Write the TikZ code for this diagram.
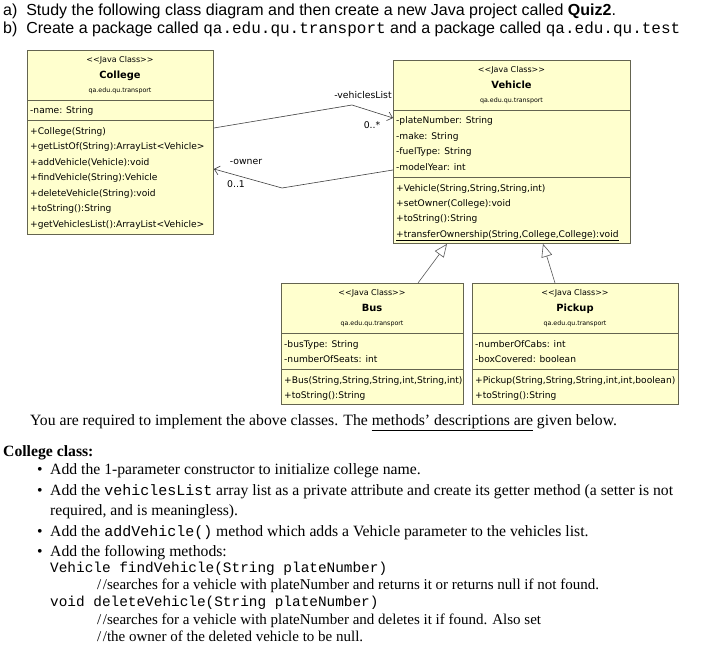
\documentclass[tikz,border=0pt]{standalone}
\usepackage{fontspec}
\setmainfont{Liberation Serif}
\newfontfamily\arialf{Liberation Sans}
\newfontfamily\umlf{DejaVu Sans}
\newfontfamily\courf{Liberation Mono}
\usetikzlibrary{arrows.meta}
\definecolor{umlfill}{RGB}{255,255,206}
\definecolor{umlline}{RGB}{100,100,80}
\newcommand\memlist[5]{%
  \foreach \t [count=\i from 0] in {#5}{\node[mem] (#1\i) at (#2,{#3+\i*#4}) {\t};}}
\newcommand\slsl{/\kern1.5pt/}
\newcommand\inl[1]{{\courf\fontsize{15}{18}\selectfont #1}}
\begin{document}
\begin{tikzpicture}[x=1pt,y=-1pt,
  umlbox/.style={draw=umlline, fill=umlfill, line width=0.9pt, inner sep=0pt, anchor=north west},
  sep/.style={draw=umlline, line width=0.8pt},
  mem/.style={anchor=base west, inner sep=0pt, font=\umlf\fontsize{9.1}{10}\selectfont},
  stereo/.style={anchor=base, inner sep=0pt, font=\umlf\fontsize{8}{9}\selectfont},
  cname/.style={anchor=base, inner sep=0pt, font=\umlf\bfseries\fontsize{9.9}{11}\selectfont},
  pkg/.style={anchor=base, inner sep=0pt, font=\umlf\fontsize{6.3}{7}\selectfont},
  lbl/.style={anchor=base, inner sep=0pt, font=\umlf\fontsize{9.3}{10}\selectfont},
  assoc/.style={draw=black!75, line width=0.6pt, -{Straight Barb[length=5pt,width=9pt]}},
  gen/.style={draw=black!65, line width=0.6pt, -{Triangle[open,length=13pt,width=11pt,fill=white]}},
  head/.style={anchor=base west, inner sep=0pt, font=\arialf\fontsize{16}{19}\selectfont},
  body/.style={anchor=base west, inner sep=0pt, font=\fontsize{15.7}{19}\selectfont},
  cmt/.style={anchor=base west, inner sep=0pt, font=\fontsize{15}{18}\selectfont},
  code/.style={anchor=base west, inner sep=0pt, font=\courf\fontsize{14.4}{17}\selectfont}]
\useasboundingbox (0,0) rectangle (718,652);
\fill[white] (0,0) rectangle (718,652);

% headings
\node[head] (ha) at (3,16) {a)\ \ Study the following class diagram and then create a new Java project called \textbf{Quiz2}.};
\node[head] (hb) at (3,34) {b)\ \ Create a package called {\courf qa.edu.qu.transport} and a package called {\courf qa.edu.qu.test}};

% boxes
\node[umlbox, minimum width=186pt, minimum height=184pt] (college) at (27,50) {};
\node[umlbox, minimum width=237pt, minimum height=183pt] (vehicle) at (393,60) {};
\node[umlbox, minimum width=182pt, minimum height=121pt] (bus) at (281,283) {};
\node[umlbox, minimum width=206pt, minimum height=121pt] (pickup) at (472,283) {};

\foreach \b/\s/\t in {college/50/70, vehicle/50/117, bus/50/86, pickup/50/86}{
  \draw[sep] ([yshift=-\s pt]\b.north west) -- ([yshift=-\s pt]\b.north east);
  \draw[sep] ([yshift=-\t pt]\b.north west) -- ([yshift=-\t pt]\b.north east);
}

% College
\node[stereo] (cst) at (120,63) {<<Java Class>>};
\node[cname] (cnm) at (120,79) {College};
\node[pkg] (cpk) at (120,93) {qa.edu.qu.transport};
\node[mem] (ca0) at (30,113.5) {-name: String};
\memlist{cm}{30}{134.5}{15.5}{{+College(String)},{+getListOf(String):ArrayList<Vehicle>},{+addVehicle(Vehicle):void},{+findVehicle(String):Vehicle},{+deleteVehicle(String):void},{+toString():String},{+getVehiclesList():ArrayList<Vehicle>}}

% Vehicle
\node[stereo] (vst) at (511.5,73) {<<Java Class>>};
\node[cname] (vnm) at (511.5,89) {Vehicle};
\node[pkg] (vpk) at (511.5,103) {qa.edu.qu.transport};
\memlist{va}{396}{123.5}{15.6}{{-plateNumber: String},{-make: String},{-fuelType: String},{-modelYear: int}}
\memlist{vm}{396}{191.5}{15.2}{{+Vehicle(String,String,String,int)},{+setOwner(College):void},{+toString():String},{\underline{+transferOwnership(String,College,College):void}}}

% Bus
\node[stereo] (bst) at (372,296) {<<Java Class>>};
\node[cname] (bnm) at (372,312) {Bus};
\node[pkg] (bpk) at (372,326) {qa.edu.qu.transport};
\memlist{ba}{284}{347.5}{15}{{-busType: String},{-numberOfSeats: int}}
\memlist{bm}{284}{383.5}{15.5}{{+Bus(String,String,String,int,String,int)},{+toString():String}}

% Pickup
\node[stereo] (pst) at (575,296) {<<Java Class>>};
\node[cname] (pnm) at (575,312) {Pickup};
\node[pkg] (ppk) at (575,326) {qa.edu.qu.transport};
\memlist{pa}{475}{347.5}{15}{{-numberOfCabs: int},{-boxCovered: boolean}}
\memlist{pm}{475}{383.5}{15.5}{{+Pickup(String,String,String,int,int,boolean)},{+toString():String}}

% associations
\coordinate (vbend) at (352,105);
\coordinate (obend) at (282,188);
\draw[assoc] ([yshift=-78pt]college.north east) -- (vbend) -- ([yshift=-58pt]vehicle.north west);
\draw[assoc] ([yshift=-110pt]vehicle.north west) -- (obend) -- ([yshift=-119pt]college.north east);
\node[lbl] (lvl) at (363,99) {-vehiclesList};
\node[lbl] (lvm) at (372,129) {0..*};
\node[lbl] (low) at (246,165) {-owner};
\node[lbl] (lom) at (236,188) {0..1};

% generalizations
\draw[gen] ([xshift=137pt]bus.north west) -- ([xshift=54pt]vehicle.south west);
\draw[gen] ([xshift=83pt]pickup.north west) -- ([xshift=150pt]vehicle.south west);

% body text
\node[body] (intro) at (30,425) {You are required to implement the above classes. The \underline{methods’ descriptions are} given below.};
\node[body, font=\bfseries\fontsize{15.7}{19}\selectfont] (cc) at (3,456) {College class:};
\node[body] (d1) at (37,474) {•};
\node[body] (t1) at (50,474) {Add the 1-parameter constructor to initialize college name.};
\node[body] (d2) at (37,495) {•};
\node[body] (t2) at (50,495) {Add the \inl{vehiclesList} array list as a private attribute and create its getter method (a setter is not};
\node[body] (t2b) at (50,515) {required, and is meaningless).};
\node[body] (d3) at (37,536) {•};
\node[body] (t3) at (50,536) {Add the \inl{addVehicle()} method which adds a Vehicle parameter to the vehicles list.};
\node[body] (d4) at (37,556) {•};
\node[body] (t4) at (50,556) {Add the following methods:};
\node[code] (m1) at (50,572) {Vehicle findVehicle(String plateNumber)};
\node[cmt] (c1) at (97,589) {\slsl searches for a vehicle with plateNumber and returns it or returns null if not found.};
\node[code] (m2) at (50,606) {void deleteVehicle(String plateNumber)};
\node[cmt] (c2) at (97,624) {\slsl searches for a vehicle with plateNumber and deletes it if found. Also set};
\node[cmt] (c3) at (97,641) {\slsl the owner of the deleted vehicle to be null.};
\end{tikzpicture}
\end{document}
